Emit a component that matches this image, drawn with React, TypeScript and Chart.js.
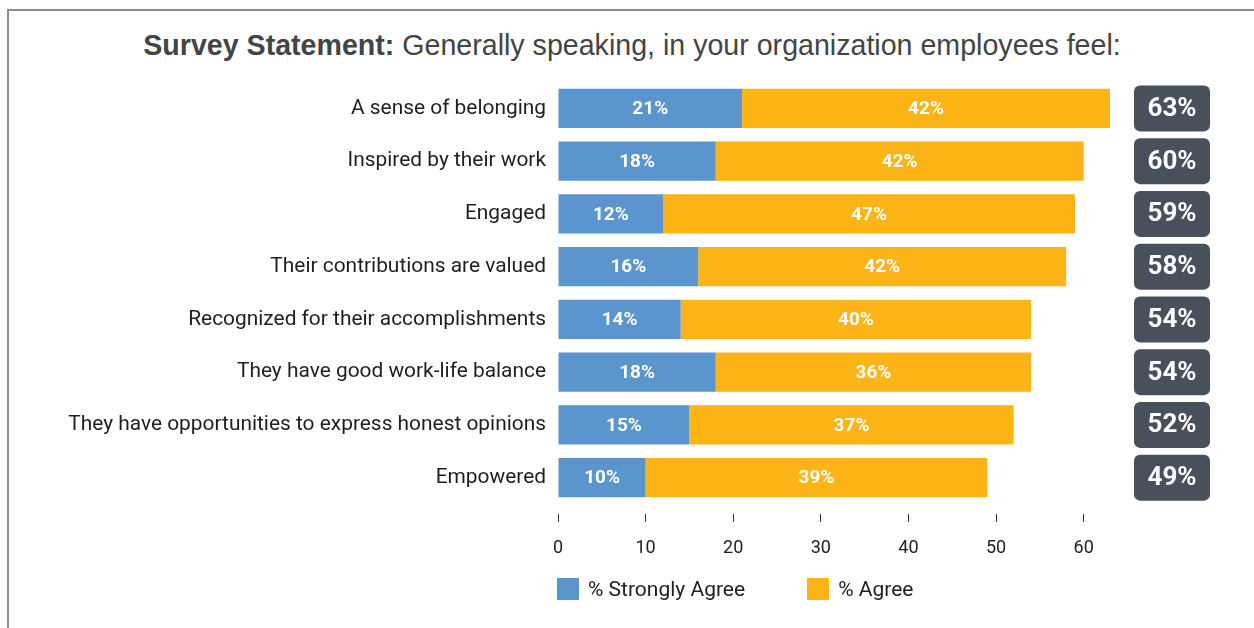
import React, { useEffect, useRef } from "react";
import { Chart, registerables } from "chart.js";

Chart.register(...registerables);

const categories: string[] = [
  "A sense of belonging",
  "Inspired by their work",
  "Engaged",
  "Their contributions are valued",
  "Recognized for their accomplishments",
  "They have good work-life balance",
  "They have opportunities to express honest opinions",
  "Empowered",
];
const stronglyAgree: number[] = [21, 18, 12, 16, 14, 18, 15, 10];
const agree: number[] = [42, 42, 47, 42, 40, 36, 37, 39];
const seriesNames: string[] = ["% Strongly Agree", "% Agree"];
const xTicks: number[] = [0, 10, 20, 30, 40, 50, 60];
const xMax = 63;

const BLUE = "#5B95CD";
const ORANGE = "#FDB416";
const BOX = "#47505B";
const FONT = "Roboto, 'Noto Sans', sans-serif";

const barLabelPlugin = {
  id: "barLabels",
  afterDatasetsDraw(chart: any) {
    const ctx = chart.ctx;
    ctx.save();
    ctx.fillStyle = "#ffffff";
    ctx.font = `bold 19px ${FONT}`;
    ctx.textAlign = "center";
    ctx.textBaseline = "middle";
    chart.data.datasets.forEach((ds: any, di: number) => {
      const meta = chart.getDatasetMeta(di);
      meta.data.forEach((el: any, i: number) => {
        const p = el.getProps(["x", "y", "base"], true);
        ctx.fillText(`${ds.data[i]}%`, (p.x + p.base) / 2, p.y + 1);
      });
    });
    ctx.restore();
  },
};

const totalBoxPlugin = {
  id: "totalBoxes",
  afterDraw(chart: any) {
    const ctx = chart.ctx;
    const yScale = chart.scales.y;
    const area = chart.chartArea;
    const w = 76;
    const h = 46;
    const left = area.right + 24;
    ctx.save();
    categories.forEach((_c, i) => {
      const total = stronglyAgree[i] + agree[i];
      const cy = yScale.getPixelForValue(i);
      ctx.fillStyle = BOX;
      ctx.beginPath();
      (ctx as any).roundRect(left, cy - h / 2, w, h, 6);
      ctx.fill();
      ctx.fillStyle = "#ffffff";
      ctx.font = `bold 26px ${FONT}`;
      ctx.textAlign = "center";
      ctx.textBaseline = "middle";
      ctx.fillText(`${total}%`, left + w / 2, cy + 1);
    });
    ctx.restore();
  },
};

export default function App() {
  const canvasRef = useRef<HTMLCanvasElement | null>(null);

  useEffect(() => {
    if (!canvasRef.current) return;
    const chart = new Chart(canvasRef.current, {
      type: "bar",
      data: {
        labels: categories,
        datasets: [
          { label: seriesNames[0], data: stronglyAgree, backgroundColor: BLUE, borderWidth: 0 },
          { label: seriesNames[1], data: agree, backgroundColor: ORANGE, borderWidth: 0 },
        ],
      },
      options: {
        indexAxis: "y",
        responsive: true,
        maintainAspectRatio: false,
        animation: false,
        barPercentage: 0.74,
        categoryPercentage: 1,
        layout: { padding: { top: 82, left: 0, right: 144, bottom: 16 } },
        plugins: {
          legend: { display: false },
          tooltip: { enabled: false },
          title: { display: false },
        },
        scales: {
          x: {
            stacked: true,
            min: 0,
            max: xMax,
            afterBuildTicks: (scale: any) => {
              scale.ticks = xTicks.map((v) => ({ value: v }));
            },
            afterFit: (scale: any) => {
              scale.height = 60;
            },
            border: { display: false },
            grid: {
              drawOnChartArea: false,
              drawTicks: true,
              tickLength: 18,
              tickBorderDash: [0, 10, 8, 60],
              tickColor: "#333333",
              tickWidth: 1,
            },
            ticks: {
              color: "#222222",
              font: { family: FONT, size: 18 },
              padding: 16,
            },
          },
          y: {
            stacked: true,
            afterFit: (scale: any) => {
              scale.width = 558;
            },
            border: { display: false },
            grid: { display: false, drawTicks: false },
            ticks: {
              color: "#1f1f1f",
              font: { family: FONT, size: 20.9 },
              padding: 12,
            },
          },
        },
      },
      plugins: [barLabelPlugin, totalBoxPlugin],
    });
    return () => chart.destroy();
  }, []);

  return (
    <div style={{ position: "fixed", left: 0, top: 0, width: 1254, height: 628, overflow: "hidden", background: "#fff" }}>
      <div
        style={{
          position: "absolute",
          left: 7,
          top: 9,
          width: 1400,
          height: 800,
          borderTop: "2px solid #978b8b",
          borderLeft: "2px solid #978b8b",
        }}
      />
      <div
        style={{
          position: "absolute",
          left: 0,
          top: 29,
          width: 1264,
          textAlign: "center",
          fontFamily: "'Liberation Sans', Arial, sans-serif",
          fontSize: 28.6,
          lineHeight: "32px",
          color: "#444444",
          whiteSpace: "nowrap",
        }}
      >
        <b>Survey Statement:</b> Generally speaking, in your organization employees feel:
      </div>
      <div style={{ position: "absolute", left: 0, top: 0, width: 1254, height: 580 }}>
        <canvas ref={canvasRef} />
      </div>
      <div
        style={{
          position: "absolute",
          left: 557,
          top: 578,
          display: "flex",
          alignItems: "center",
          gap: 62,
          fontFamily: FONT,
          fontSize: 21,
          color: "#222222",
          whiteSpace: "nowrap",
        }}
      >
        {seriesNames.map((name, i) => (
          <div key={name} style={{ display: "flex", alignItems: "center", height: 22 }}>
            <span style={{ display: "inline-block", width: 22, height: 22, background: i === 0 ? BLUE : ORANGE, marginRight: 9 }} />
            <span>{name}</span>
          </div>
        ))}
      </div>
    </div>
  );
}
